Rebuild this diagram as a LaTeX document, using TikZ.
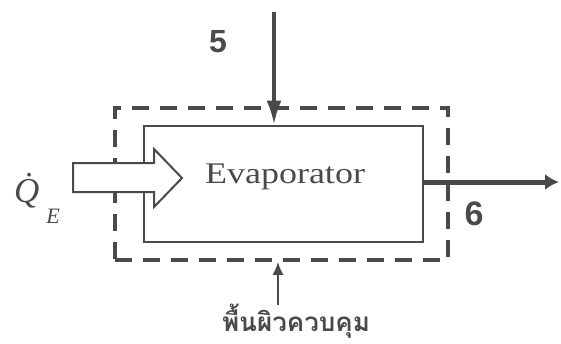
\documentclass[tikz,border=0pt]{standalone}
\usepackage{fontspec}
\setmainfont{Liberation Serif}
\newfontfamily\labelsans{Liberation Sans}
\newfontfamily\thaifont[Script=Thai]{Loma}
\usetikzlibrary{arrows.meta}
\definecolor{ink}{HTML}{4A4A4A}
\tikzset{
  unitbox/.style={draw=ink, line width=2.2pt, minimum width=279pt, minimum height=116.6pt, inner sep=0pt},
  ctrlsurf/.style={draw=ink, line width=3.6pt, dash pattern=on 17pt off 11pt, minimum width=333pt, minimum height=152pt, inner sep=0pt},
  stream/.style={draw=ink, line width=3.4pt},
  heatarrow/.style={draw=ink, line width=2pt, fill=white, line join=miter},
  statenum/.style={text=ink, font=\labelsans\bfseries\fontsize{32}{34}\selectfont, inner sep=0pt},
}
\begin{document}
\begin{tikzpicture}[x=1pt, y=-1pt]
  \useasboundingbox (0,0) rectangle (561,343);

  % control surface and the evaporator itself
  \node[ctrlsurf] (cs) at (281.5,184) {};
  \node[unitbox] (evap) at (283.5,184) {};
  \node[text=ink, font=\fontsize{30}{32}\selectfont, xscale=1.2, anchor=base, inner sep=0pt] (evlabel) at (285,183) {Evaporator};

  % heat input Q_E (hollow block arrow)
  \path[heatarrow] (73,163) coordinate (qtail) -- (154,163) -- (154,149) -- (182,178) coordinate (qtip)
        -- (154,207) -- (154,192) -- (73,192) -- cycle;
  \node[text=ink, font=\itshape\fontsize{35}{36}\selectfont, anchor=base west, inner sep=0pt] (qlabel) at (14,202)
    {\.{Q}\kern7pt\raisebox{-21pt}{\fontsize{22}{23}\selectfont E}};

  % inlet stream 5
  \coordinate (in5) at (274,12);
  \draw[stream, -{Latex[length=24pt, width=15pt]}] (in5) -- (in5 |- evap.north);
  \node[statenum] (n5) at (218,42) {5};

  % outlet stream 6
  \coordinate (out6) at (559,182);
  \draw[stream, line width=5pt, -{Latex[length=14pt, width=16pt]}] (evap.east |- out6) -- (out6);
  \node[statenum, font=\labelsans\bfseries\fontsize{34}{36}\selectfont] (n6) at (474,214) {6};

  % control surface label
  \node[text=ink, font=\thaifont\bfseries\fontsize{26}{28}\selectfont, inner sep=0pt] (cslabel) at (296,321) {พื้นผิวควบคุม};
  \coordinate (csfoot) at (278,305);
  \draw[draw=ink, line width=2pt, -{Latex[length=13pt, width=11pt]}] (csfoot) -- (csfoot |- cs.south);
\end{tikzpicture}
\end{document}
